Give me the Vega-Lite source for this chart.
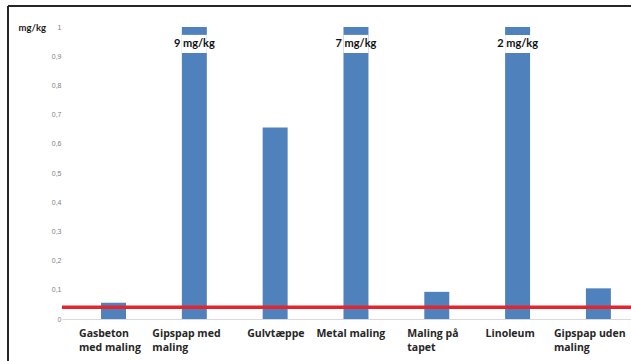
{
  "$schema": "https://vega.github.io/schema/vega-lite/v6.json",
  "width": 623,
  "height": 355,
  "autosize": {"type": "none"},
  "padding": {"left": 8, "top": 6, "right": 0, "bottom": 0},
  "background": "white",
  "view": {"stroke": "#262626", "strokeWidth": 2, "strokeDash": [623, 978, 355, 0]},
  "config": {
    "axisY": {
      "offset": -54,
      "tickCount": 10,
      "domain": false,
      "ticks": false,
      "tickSize": 0,
      "grid": false,
      "labelOverlap": false,
      "labelPadding": 1,
      "labelFont": "Liberation Sans",
      "labelFontSize": 7,
      "labelColor": "#7f7f7f",
      "labelExpr": "replace(format(datum.value, '~g'), '.', ',')",
      "titleAngle": 0,
      "titleAlign": "left",
      "titleBaseline": "middle",
      "titleX": -44,
      "titleY": 21,
      "titleFont": "Lato",
      "titleFontWeight": "bold",
      "titleFontSize": 9.5,
      "titleColor": "#1a1a1a"
    }
  },
  "resolve": {"scale": {"x": "independent"}},
  "layer": [
    {
      "data": {
        "values": [
          {"materiale": "Gasbeton med maling", "mg": 0.056},
          {"materiale": "Gipspap med maling", "mg": 9},
          {"materiale": "Gulvtæppe", "mg": 0.656},
          {"materiale": "Metal maling", "mg": 7},
          {"materiale": "Maling på tapet", "mg": 0.093},
          {"materiale": "Linoleum", "mg": 2},
          {"materiale": "Gipspap uden maling", "mg": 0.105}
        ]
      },
      "encoding": {
        "x": {
          "field": "materiale",
          "type": "nominal",
          "scale": {
            "domain": ["Gasbeton med maling", "Gipspap med maling", "Gulvtæppe", "Metal maling", "Maling på tapet", "Linoleum", "Gipspap uden maling"],
            "range": [54, 623],
            "paddingInner": 0.691,
            "paddingOuter": 0.366,
            "align": 0.66,
            "round": false
          },
          "axis": {
            "title": null,
            "orient": "bottom",
            "offset": -42,
            "domainColor": "#d9d9d9",
            "domainWidth": 1,
            "ticks": false,
            "grid": false,
            "labelPadding": 9,
            "labelAngle": 0,
            "labelAlign": "left",
            "labelBaseline": "top",
            "labelFont": "Open Sans",
            "labelFontWeight": "bold",
            "labelFontSize": 10.5,
            "labelColor": "#262626",
            "labelLineHeight": 14.5,
            "labelOverlap": false,
            "labelBound": false,
            "labelFlush": false,
            "labelOffset": {"expr": "({'Gasbeton med maling': -34.5, 'Gipspap med maling': -42, 'Gulvtæppe': -28, 'Metal maling': -39.5, 'Maling på tapet': -29.5, 'Linoleum': -32, 'Gipspap uden maling': -44.5})[datum.value]"},
            "labelExpr": "({'Gasbeton med maling': ['Gasbeton', 'med maling'], 'Gipspap med maling': ['Gipspap med', 'maling'], 'Maling på tapet': ['Maling på', 'tapet'], 'Gipspap uden maling': ['Gipspap uden', 'maling']})[datum.label] || datum.label"
          }
        }
      },
      "layer": [
        {
          "mark": {"type": "bar", "color": "#4f81bd"},
          "encoding": {
            "y": {
              "field": "mg",
              "type": "quantitative",
              "title": "mg/kg",
              "scale": {"domain": [0, 1], "range": [313, 21], "clamp": true, "nice": false, "zero": true}
            }
          }
        },
        {
          "transform": [{"filter": "datum.mg > 1"}],
          "mark": {"type": "bar", "color": "white"},
          "encoding": {
            "y": {"datum": 0.911, "type": "quantitative", "title": "mg/kg"},
            "y2": {"datum": 0.973}
          }
        },
        {
          "transform": [
            {"filter": "datum.mg > 1"},
            {"calculate": "datum.mg + ' mg/kg'", "as": "tekst"}
          ],
          "mark": {"type": "text", "font": "Lato", "fontWeight": "bold", "fontSize": 11, "color": "#111111", "baseline": "middle", "align": "center"},
          "encoding": {
            "y": {"datum": 0.942, "type": "quantitative", "title": "mg/kg"},
            "text": {"field": "tekst", "type": "nominal"}
          }
        }
      ]
    },
    {
      "data": {"values": [{"graense": 0.04}]},
      "mark": {"type": "rule", "color": "#e3262b", "strokeWidth": 3.5},
      "encoding": {
        "y": {"field": "graense", "type": "quantitative", "title": "mg/kg"},
        "x": {"datum": 0, "type": "quantitative", "scale": {"domain": [0, 1], "range": [54, 623]}, "axis": null},
        "x2": {"datum": 1}
      }
    }
  ]
}
